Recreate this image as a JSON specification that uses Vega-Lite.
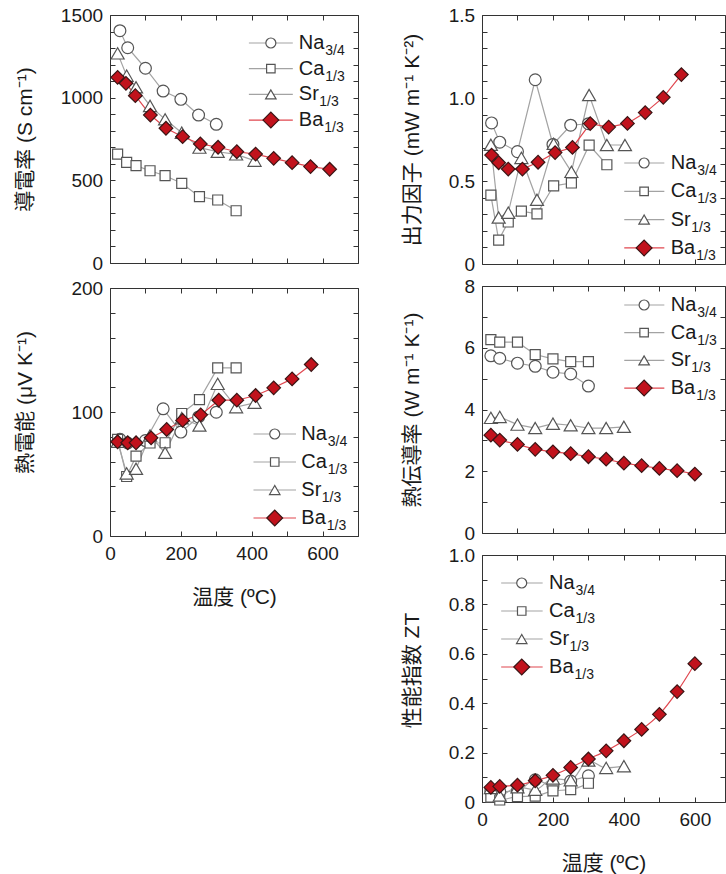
{
"$schema": "https://vega.github.io/schema/vega-lite/v6.json",
"padding": {"left": 13, "top": 5, "right": 0, "bottom": 0},
"config": {
  "view": {"stroke": "#333333", "strokeWidth": 1},
  "axis": {"labelFont": "Liberation Sans", "labelFontSize": 19, "labelColor": "#1a1a1a", "titleFont": "Liberation Sans, Noto Sans CJK JP", "titleFontSize": 21, "titleFontWeight": "normal", "titleColor": "#1a1a1a", "tickColor": "#333333", "tickWidth": 1, "labelFlush": false, "labelOverlap": false, "grid": false, "domain": false}
},
"datasets": {
"leg": [
 {"s":"Na","name":"Na","sub":"3/4","rank":0},
 {"s":"Ca","name":"Ca","sub":"1/3","rank":1},
 {"s":"Sr","name":"Sr","sub":"1/3","rank":2},
 {"s":"Ba","name":"Ba","sub":"1/3","rank":3}
],
"pts": [
 {"p":"sigma","s":"Na","T":28,"v":1405},{"p":"sigma","s":"Na","T":50,"v":1302},{"p":"sigma","s":"Na","T":100,"v":1178},{"p":"sigma","s":"Na","T":150,"v":1040},{"p":"sigma","s":"Na","T":200,"v":990},{"p":"sigma","s":"Na","T":250,"v":895},{"p":"sigma","s":"Na","T":300,"v":839},
 {"p":"sigma","s":"Ca","T":21.5,"v":659},{"p":"sigma","s":"Ca","T":47,"v":609},{"p":"sigma","s":"Ca","T":73.5,"v":589},{"p":"sigma","s":"Ca","T":113,"v":558},{"p":"sigma","s":"Ca","T":155.5,"v":528},{"p":"sigma","s":"Ca","T":202.5,"v":482},{"p":"sigma","s":"Ca","T":252.5,"v":401},{"p":"sigma","s":"Ca","T":304,"v":381},{"p":"sigma","s":"Ca","T":356,"v":316},
 {"p":"sigma","s":"Sr","T":21.5,"v":1268},{"p":"sigma","s":"Sr","T":47,"v":1133},{"p":"sigma","s":"Sr","T":73.5,"v":1063},{"p":"sigma","s":"Sr","T":113,"v":950},{"p":"sigma","s":"Sr","T":155.5,"v":869},{"p":"sigma","s":"Sr","T":202.5,"v":788},{"p":"sigma","s":"Sr","T":252.5,"v":698},{"p":"sigma","s":"Sr","T":304,"v":673},{"p":"sigma","s":"Sr","T":356,"v":657},{"p":"sigma","s":"Sr","T":408,"v":619},
 {"p":"sigma","s":"Ba","T":21.5,"v":1123},{"p":"sigma","s":"Ba","T":45,"v":1087},{"p":"sigma","s":"Ba","T":71.5,"v":1012},{"p":"sigma","s":"Ba","T":114,"v":895},{"p":"sigma","s":"Ba","T":158,"v":815},{"p":"sigma","s":"Ba","T":205,"v":764},{"p":"sigma","s":"Ba","T":255,"v":720},{"p":"sigma","s":"Ba","T":305,"v":700},{"p":"sigma","s":"Ba","T":358,"v":673},{"p":"sigma","s":"Ba","T":411,"v":659},{"p":"sigma","s":"Ba","T":462,"v":633},{"p":"sigma","s":"Ba","T":514,"v":607},{"p":"sigma","s":"Ba","T":566,"v":583},{"p":"sigma","s":"Ba","T":620,"v":567},

 {"p":"seebeck","s":"Na","T":28,"v":78},{"p":"seebeck","s":"Na","T":50,"v":75},{"p":"seebeck","s":"Na","T":100,"v":77},{"p":"seebeck","s":"Na","T":150,"v":102.6},{"p":"seebeck","s":"Na","T":200,"v":83.8},{"p":"seebeck","s":"Na","T":250,"v":96},{"p":"seebeck","s":"Na","T":300,"v":99.8},
 {"p":"seebeck","s":"Ca","T":21.5,"v":78},{"p":"seebeck","s":"Ca","T":47,"v":48},{"p":"seebeck","s":"Ca","T":73.5,"v":64.4},{"p":"seebeck","s":"Ca","T":113,"v":75},{"p":"seebeck","s":"Ca","T":155.5,"v":75.2},{"p":"seebeck","s":"Ca","T":202.5,"v":98.8},{"p":"seebeck","s":"Ca","T":252.5,"v":110},{"p":"seebeck","s":"Ca","T":304,"v":135.6},{"p":"seebeck","s":"Ca","T":356,"v":135.6},
 {"p":"seebeck","s":"Sr","T":21.5,"v":76},{"p":"seebeck","s":"Sr","T":47,"v":50.5},{"p":"seebeck","s":"Sr","T":73.5,"v":54.2},{"p":"seebeck","s":"Sr","T":113,"v":81},{"p":"seebeck","s":"Sr","T":155.5,"v":67.1},{"p":"seebeck","s":"Sr","T":202.5,"v":95},{"p":"seebeck","s":"Sr","T":252.5,"v":89.1},{"p":"seebeck","s":"Sr","T":304,"v":122.7},{"p":"seebeck","s":"Sr","T":356,"v":103.9},{"p":"seebeck","s":"Sr","T":408,"v":107.4},
 {"p":"seebeck","s":"Ba","T":21.5,"v":76},{"p":"seebeck","s":"Ba","T":50,"v":75.2},{"p":"seebeck","s":"Ba","T":73.5,"v":75.2},{"p":"seebeck","s":"Ba","T":116,"v":79.2},{"p":"seebeck","s":"Ba","T":160,"v":85.9},{"p":"seebeck","s":"Ba","T":205,"v":93.2},{"p":"seebeck","s":"Ba","T":256,"v":97.7},{"p":"seebeck","s":"Ba","T":307,"v":109.5},{"p":"seebeck","s":"Ba","T":358,"v":109.5},{"p":"seebeck","s":"Ba","T":411,"v":113.3},{"p":"seebeck","s":"Ba","T":462,"v":119.5},{"p":"seebeck","s":"Ba","T":514,"v":126.7},{"p":"seebeck","s":"Ba","T":568,"v":138.3},

 {"p":"pf","s":"Na","T":27,"v":0.85},{"p":"pf","s":"Na","T":50,"v":0.734},{"p":"pf","s":"Na","T":100,"v":0.677},{"p":"pf","s":"Na","T":150,"v":1.11},{"p":"pf","s":"Na","T":200,"v":0.72},{"p":"pf","s":"Na","T":250,"v":0.836},{"p":"pf","s":"Na","T":300,"v":0.845},
 {"p":"pf","s":"Ca","T":25,"v":0.415},{"p":"pf","s":"Ca","T":47,"v":0.144},{"p":"pf","s":"Ca","T":74,"v":0.253},{"p":"pf","s":"Ca","T":111,"v":0.319},{"p":"pf","s":"Ca","T":155,"v":0.302},{"p":"pf","s":"Ca","T":202,"v":0.471},{"p":"pf","s":"Ca","T":252,"v":0.488},{"p":"pf","s":"Ca","T":302,"v":0.716},{"p":"pf","s":"Ca","T":352,"v":0.598},
 {"p":"pf","s":"Sr","T":25,"v":0.718},{"p":"pf","s":"Sr","T":47,"v":0.28},{"p":"pf","s":"Sr","T":74,"v":0.309},{"p":"pf","s":"Sr","T":111,"v":0.639},{"p":"pf","s":"Sr","T":155,"v":0.387},{"p":"pf","s":"Sr","T":202,"v":0.724},{"p":"pf","s":"Sr","T":252,"v":0.555},{"p":"pf","s":"Sr","T":302,"v":1.018},{"p":"pf","s":"Sr","T":352,"v":0.717},{"p":"pf","s":"Sr","T":403,"v":0.717},
 {"p":"pf","s":"Ba","T":27,"v":0.656},{"p":"pf","s":"Ba","T":47,"v":0.61},{"p":"pf","s":"Ba","T":74,"v":0.572},{"p":"pf","s":"Ba","T":114,"v":0.572},{"p":"pf","s":"Ba","T":158,"v":0.613},{"p":"pf","s":"Ba","T":206,"v":0.671},{"p":"pf","s":"Ba","T":255,"v":0.702},{"p":"pf","s":"Ba","T":305,"v":0.846},{"p":"pf","s":"Ba","T":357,"v":0.825},{"p":"pf","s":"Ba","T":410,"v":0.847},{"p":"pf","s":"Ba","T":460,"v":0.912},{"p":"pf","s":"Ba","T":511,"v":1.004},{"p":"pf","s":"Ba","T":562,"v":1.141},

 {"p":"kappa","s":"Na","T":25,"v":5.74},{"p":"kappa","s":"Na","T":50,"v":5.66},{"p":"kappa","s":"Na","T":100,"v":5.5},{"p":"kappa","s":"Na","T":150,"v":5.4},{"p":"kappa","s":"Na","T":200,"v":5.21},{"p":"kappa","s":"Na","T":250,"v":5.15},{"p":"kappa","s":"Na","T":300,"v":4.76},
 {"p":"kappa","s":"Ca","T":25,"v":6.26},{"p":"kappa","s":"Ca","T":50,"v":6.18},{"p":"kappa","s":"Ca","T":100,"v":6.18},{"p":"kappa","s":"Ca","T":150,"v":5.78},{"p":"kappa","s":"Ca","T":200,"v":5.64},{"p":"kappa","s":"Ca","T":250,"v":5.55},{"p":"kappa","s":"Ca","T":300,"v":5.55},
 {"p":"kappa","s":"Sr","T":25,"v":3.73},{"p":"kappa","s":"Sr","T":50,"v":3.76},{"p":"kappa","s":"Sr","T":100,"v":3.51},{"p":"kappa","s":"Sr","T":150,"v":3.4},{"p":"kappa","s":"Sr","T":200,"v":3.54},{"p":"kappa","s":"Sr","T":250,"v":3.49},{"p":"kappa","s":"Sr","T":300,"v":3.4},{"p":"kappa","s":"Sr","T":350,"v":3.4},{"p":"kappa","s":"Sr","T":400,"v":3.44},
 {"p":"kappa","s":"Ba","T":25,"v":3.17},{"p":"kappa","s":"Ba","T":50,"v":3.01},{"p":"kappa","s":"Ba","T":100,"v":2.87},{"p":"kappa","s":"Ba","T":150,"v":2.71},{"p":"kappa","s":"Ba","T":200,"v":2.63},{"p":"kappa","s":"Ba","T":250,"v":2.57},{"p":"kappa","s":"Ba","T":300,"v":2.47},{"p":"kappa","s":"Ba","T":350,"v":2.39},{"p":"kappa","s":"Ba","T":400,"v":2.26},{"p":"kappa","s":"Ba","T":450,"v":2.18},{"p":"kappa","s":"Ba","T":500,"v":2.09},{"p":"kappa","s":"Ba","T":550,"v":2.02},{"p":"kappa","s":"Ba","T":600,"v":1.91},

 {"p":"zt","s":"Na","T":25,"v":0.044},{"p":"zt","s":"Na","T":50,"v":0.042},{"p":"zt","s":"Na","T":100,"v":0.046},{"p":"zt","s":"Na","T":150,"v":0.09},{"p":"zt","s":"Na","T":200,"v":0.065},{"p":"zt","s":"Na","T":250,"v":0.085},{"p":"zt","s":"Na","T":300,"v":0.106},
 {"p":"zt","s":"Ca","T":25,"v":0.02},{"p":"zt","s":"Ca","T":50,"v":0.008},{"p":"zt","s":"Ca","T":100,"v":0.022},{"p":"zt","s":"Ca","T":150,"v":0.024},{"p":"zt","s":"Ca","T":200,"v":0.045},{"p":"zt","s":"Ca","T":250,"v":0.05},{"p":"zt","s":"Ca","T":300,"v":0.076},
 {"p":"zt","s":"Sr","T":25,"v":0.057},{"p":"zt","s":"Sr","T":50,"v":0.026},{"p":"zt","s":"Sr","T":100,"v":0.06},{"p":"zt","s":"Sr","T":150,"v":0.05},{"p":"zt","s":"Sr","T":200,"v":0.095},{"p":"zt","s":"Sr","T":250,"v":0.088},{"p":"zt","s":"Sr","T":300,"v":0.168},{"p":"zt","s":"Sr","T":350,"v":0.138},{"p":"zt","s":"Sr","T":400,"v":0.145},
 {"p":"zt","s":"Ba","T":25,"v":0.059},{"p":"zt","s":"Ba","T":50,"v":0.063},{"p":"zt","s":"Ba","T":100,"v":0.068},{"p":"zt","s":"Ba","T":150,"v":0.086},{"p":"zt","s":"Ba","T":200,"v":0.108},{"p":"zt","s":"Ba","T":250,"v":0.14},{"p":"zt","s":"Ba","T":300,"v":0.174},{"p":"zt","s":"Ba","T":350,"v":0.207},{"p":"zt","s":"Ba","T":400,"v":0.248},{"p":"zt","s":"Ba","T":450,"v":0.294},{"p":"zt","s":"Ba","T":500,"v":0.355},{"p":"zt","s":"Ba","T":550,"v":0.447},{"p":"zt","s":"Ba","T":600,"v":0.56}
]
},
"spacing": 372,
"bounds": "flush",
"hconcat": [
{
"spacing": 25,
"bounds": "flush",
"vconcat": [
{
 "width": 248, "height": 248,
 "layer": [
  {"data": {"name": "pts"}, "transform": [{"filter": "datum.p === 'sigma'"}],
   "layer": [
    {"mark": {"type": "line", "strokeWidth": 1.2},
     "encoding": {
      "x": {"field": "T", "type": "quantitative", "scale": {"domain": [0, 700], "nice": false, "zero": false}, "axis": {"orient": "top", "values": [0,100,200,300,400,500,600,700], "labels": false, "title": null, "tickSize": -5}},
      "y": {"field": "v", "type": "quantitative", "scale": {"domain": [0, 1500], "nice": false, "zero": false}, "axis": {"orient": "right", "values": [0,100,200,300,400,500,600,700,800,900,1000,1100,1200,1300,1400,1500], "labels": false, "title": null, "tickSize": -5}},
      "color": {"field": "s", "type": "nominal", "scale": {"domain": ["Na","Ca","Sr","Ba"], "range": ["#a3a3a3","#a3a3a3","#a3a3a3","#e0474f"]}, "legend": null}
     }},
    {"mark": {"type": "point", "filled": true, "opacity": 1, "strokeWidth": 1.2},
     "encoding": {
      "x": {"field": "T", "type": "quantitative", "scale": {"domain": [0, 700], "nice": false, "zero": false}, "axis": {"orient": "bottom", "values": [0,100,200,300,400,500,600,700], "labels": false, "title": null, "tickSize": -5}},
      "y": {"field": "v", "type": "quantitative", "scale": {"domain": [0, 1500], "nice": false, "zero": false}, "axis": {"orient": "left", "values": [0,100,200,300,400,500,600,700,800,900,1000,1100,1200,1300,1400,1500], "labelExpr": "datum.value % 500 === 0 ? '' + datum.value : ''", "labelPadding": 12.4, "tickSize": -5, "title": "導電率 (S cm⁻¹)", "titleX": -85, "titleBaseline": "middle"}},
      "shape": {"field": "s", "type": "nominal", "scale": {"domain": ["Na","Ca","Sr","Ba"], "range": ["circle","square","triangle-up","diamond"]}, "legend": null},
      "size": {"field": "s", "type": "nominal", "scale": {"type": "ordinal", "domain": ["Na","Ca","Sr","Ba"], "range": [140,100,170,185]}, "legend": null},
      "fill": {"field": "s", "type": "nominal", "scale": {"domain": ["Na","Ca","Sr","Ba"], "range": ["#ffffff","#ffffff","#ffffff","#c1121c"]}, "legend": null},
      "stroke": {"field": "s", "type": "nominal", "scale": {"domain": ["Na","Ca","Sr","Ba"], "range": ["#555555","#555555","#555555","#3b1515"]}, "legend": null}
     }}
   ],
   "resolve": {"axis": {"x": "independent", "y": "independent"}}
  },
  {"data": {"name": "leg"},
   "layer": [
    {"mark": {"type": "rule", "strokeWidth": 1.2},
     "encoding": {
      "x": {"datum": 392, "type": "quantitative", "scale": {"domain": [0, 700], "nice": false, "zero": false}, "axis": null},
      "x2": {"datum": 516},
      "y": {"field": "rank", "type": "quantitative", "scale": {"domain": [-1.089, 8.561], "reverse": true, "nice": false, "zero": false}, "axis": null},
      "color": {"field": "s", "type": "nominal", "scale": {"domain": ["Na","Ca","Sr","Ba"], "range": ["#a3a3a3","#a3a3a3","#a3a3a3","#e0474f"]}, "legend": null}
     }},
    {"mark": {"type": "point", "filled": true, "opacity": 1, "strokeWidth": 1.2},
     "encoding": {
      "x": {"datum": 454, "type": "quantitative", "scale": {"domain": [0, 700], "nice": false, "zero": false}, "axis": null},
      "y": {"field": "rank", "type": "quantitative", "scale": {"domain": [-1.089, 8.561], "reverse": true, "nice": false, "zero": false}, "axis": null},
      "shape": {"field": "s", "type": "nominal", "scale": {"domain": ["Na","Ca","Sr","Ba"], "range": ["circle","square","triangle-up","diamond"]}, "legend": null},
      "size": {"field": "s", "type": "nominal", "scale": {"type": "ordinal", "domain": ["Na","Ca","Sr","Ba"], "range": [100,72,110,250]}, "legend": null},
      "fill": {"field": "s", "type": "nominal", "scale": {"domain": ["Na","Ca","Sr","Ba"], "range": ["#ffffff","#ffffff","#ffffff","#c1121c"]}, "legend": null},
      "stroke": {"field": "s", "type": "nominal", "scale": {"domain": ["Na","Ca","Sr","Ba"], "range": ["#555555","#555555","#555555","#3b1515"]}, "legend": null}
     }},
    {"mark": {"type": "text", "align": "left", "baseline": "middle", "fontSize": 20, "font": "Liberation Sans", "color": "#1a1a1a"},
     "encoding": {
      "x": {"datum": 533, "type": "quantitative", "scale": {"domain": [0, 700], "nice": false, "zero": false}, "axis": null},
      "y": {"field": "rank", "type": "quantitative", "scale": {"domain": [-1.089, 8.561], "reverse": true, "nice": false, "zero": false}, "axis": null},
      "text": {"field": "name"}
     }},
    {"transform": [{"filter": "datum.s === 'Na' || datum.s === 'Ca'"}],
     "mark": {"type": "text", "align": "left", "baseline": "middle", "fontSize": 14, "font": "Liberation Sans", "color": "#1a1a1a", "dx": 26.5, "dy": 8},
     "encoding": {
      "x": {"datum": 533, "type": "quantitative", "scale": {"domain": [0, 700], "nice": false, "zero": false}, "axis": null},
      "y": {"field": "rank", "type": "quantitative", "scale": {"domain": [-1.089, 8.561], "reverse": true, "nice": false, "zero": false}, "axis": null},
      "text": {"field": "sub"}
     }},
    {"transform": [{"filter": "datum.s === 'Ba'"}],
     "mark": {"type": "text", "align": "left", "baseline": "middle", "fontSize": 14, "font": "Liberation Sans", "color": "#1a1a1a", "dx": 25.5, "dy": 8},
     "encoding": {
      "x": {"datum": 533, "type": "quantitative", "scale": {"domain": [0, 700], "nice": false, "zero": false}, "axis": null},
      "y": {"field": "rank", "type": "quantitative", "scale": {"domain": [-1.089, 8.561], "reverse": true, "nice": false, "zero": false}, "axis": null},
      "text": {"field": "sub"}
     }},
    {"transform": [{"filter": "datum.s === 'Sr'"}],
     "mark": {"type": "text", "align": "left", "baseline": "middle", "fontSize": 14, "font": "Liberation Sans", "color": "#1a1a1a", "dx": 20.5, "dy": 8},
     "encoding": {
      "x": {"datum": 533, "type": "quantitative", "scale": {"domain": [0, 700], "nice": false, "zero": false}, "axis": null},
      "y": {"field": "rank", "type": "quantitative", "scale": {"domain": [-1.089, 8.561], "reverse": true, "nice": false, "zero": false}, "axis": null},
      "text": {"field": "sub"}
     }}
   ]
  }
 ],
 "resolve": {"scale": {"y": "independent", "size": "independent"}, "axis": {"x": "independent", "y": "independent"}}
},
{
 "width": 248, "height": 248,
 "layer": [
  {"data": {"name": "pts"}, "transform": [{"filter": "datum.p === 'seebeck'"}],
   "layer": [
    {"mark": {"type": "line", "strokeWidth": 1.2},
     "encoding": {
      "x": {"field": "T", "type": "quantitative", "scale": {"domain": [0, 700], "nice": false, "zero": false}, "axis": {"orient": "top", "values": [0,100,200,300,400,500,600,700], "labels": false, "title": null, "tickSize": -5}},
      "y": {"field": "v", "type": "quantitative", "scale": {"domain": [0, 200], "nice": false, "zero": false}, "axis": {"orient": "right", "values": [0,20,40,60,80,100,120,140,160,180,200], "labels": false, "title": null, "tickSize": -5}},
      "color": {"field": "s", "type": "nominal", "scale": {"domain": ["Na","Ca","Sr","Ba"], "range": ["#a3a3a3","#a3a3a3","#a3a3a3","#e0474f"]}, "legend": null}
     }},
    {"mark": {"type": "point", "filled": true, "opacity": 1, "strokeWidth": 1.2},
     "encoding": {
      "x": {"field": "T", "type": "quantitative", "scale": {"domain": [0, 700], "nice": false, "zero": false}, "axis": {"orient": "bottom", "values": [0,100,200,300,400,500,600,700], "labelExpr": "datum.value % 200 === 0 ? '' + datum.value : ''", "labelPadding": 13, "tickSize": -5, "title": "温度 (ºC)", "titleY": 61, "titleBaseline": "middle"}},
      "y": {"field": "v", "type": "quantitative", "scale": {"domain": [0, 200], "nice": false, "zero": false}, "axis": {"orient": "left", "values": [0,20,40,60,80,100,120,140,160,180,200], "labelExpr": "datum.value % 100 === 0 ? '' + datum.value : ''", "labelPadding": 12.4, "tickSize": -5, "title": "熱電能 (μV K⁻¹)", "titleX": -85, "titleY": 114, "titleBaseline": "middle"}},
      "shape": {"field": "s", "type": "nominal", "scale": {"domain": ["Na","Ca","Sr","Ba"], "range": ["circle","square","triangle-up","diamond"]}, "legend": null},
      "size": {"field": "s", "type": "nominal", "scale": {"type": "ordinal", "domain": ["Na","Ca","Sr","Ba"], "range": [140,100,170,185]}, "legend": null},
      "fill": {"field": "s", "type": "nominal", "scale": {"domain": ["Na","Ca","Sr","Ba"], "range": ["#ffffff","#ffffff","#ffffff","#c1121c"]}, "legend": null},
      "stroke": {"field": "s", "type": "nominal", "scale": {"domain": ["Na","Ca","Sr","Ba"], "range": ["#555555","#555555","#555555","#3b1515"]}, "legend": null}
     }}
   ],
   "resolve": {"axis": {"x": "independent", "y": "independent"}}
  },
  {"data": {"name": "leg"},
   "layer": [
    {"mark": {"type": "rule", "strokeWidth": 1.2},
     "encoding": {
      "x": {"datum": 405, "type": "quantitative", "scale": {"domain": [0, 700], "nice": false, "zero": false}, "axis": null},
      "x2": {"datum": 525},
      "y": {"field": "rank", "type": "quantitative", "scale": {"domain": [-5.214, 3.643], "reverse": true, "nice": false, "zero": false}, "axis": null},
      "color": {"field": "s", "type": "nominal", "scale": {"domain": ["Na","Ca","Sr","Ba"], "range": ["#a3a3a3","#a3a3a3","#a3a3a3","#e0474f"]}, "legend": null}
     }},
    {"mark": {"type": "point", "filled": true, "opacity": 1, "strokeWidth": 1.2},
     "encoding": {
      "x": {"datum": 465, "type": "quantitative", "scale": {"domain": [0, 700], "nice": false, "zero": false}, "axis": null},
      "y": {"field": "rank", "type": "quantitative", "scale": {"domain": [-5.214, 3.643], "reverse": true, "nice": false, "zero": false}, "axis": null},
      "shape": {"field": "s", "type": "nominal", "scale": {"domain": ["Na","Ca","Sr","Ba"], "range": ["circle","square","triangle-up","diamond"]}, "legend": null},
      "size": {"field": "s", "type": "nominal", "scale": {"type": "ordinal", "domain": ["Na","Ca","Sr","Ba"], "range": [100,72,110,250]}, "legend": null},
      "fill": {"field": "s", "type": "nominal", "scale": {"domain": ["Na","Ca","Sr","Ba"], "range": ["#ffffff","#ffffff","#ffffff","#c1121c"]}, "legend": null},
      "stroke": {"field": "s", "type": "nominal", "scale": {"domain": ["Na","Ca","Sr","Ba"], "range": ["#555555","#555555","#555555","#3b1515"]}, "legend": null}
     }},
    {"mark": {"type": "text", "align": "left", "baseline": "middle", "fontSize": 20, "font": "Liberation Sans", "color": "#1a1a1a"},
     "encoding": {
      "x": {"datum": 540, "type": "quantitative", "scale": {"domain": [0, 700], "nice": false, "zero": false}, "axis": null},
      "y": {"field": "rank", "type": "quantitative", "scale": {"domain": [-5.214, 3.643], "reverse": true, "nice": false, "zero": false}, "axis": null},
      "text": {"field": "name"}
     }},
    {"transform": [{"filter": "datum.s === 'Na' || datum.s === 'Ca'"}],
     "mark": {"type": "text", "align": "left", "baseline": "middle", "fontSize": 14, "font": "Liberation Sans", "color": "#1a1a1a", "dx": 26.5, "dy": 8},
     "encoding": {
      "x": {"datum": 540, "type": "quantitative", "scale": {"domain": [0, 700], "nice": false, "zero": false}, "axis": null},
      "y": {"field": "rank", "type": "quantitative", "scale": {"domain": [-5.214, 3.643], "reverse": true, "nice": false, "zero": false}, "axis": null},
      "text": {"field": "sub"}
     }},
    {"transform": [{"filter": "datum.s === 'Ba'"}],
     "mark": {"type": "text", "align": "left", "baseline": "middle", "fontSize": 14, "font": "Liberation Sans", "color": "#1a1a1a", "dx": 25.5, "dy": 8},
     "encoding": {
      "x": {"datum": 540, "type": "quantitative", "scale": {"domain": [0, 700], "nice": false, "zero": false}, "axis": null},
      "y": {"field": "rank", "type": "quantitative", "scale": {"domain": [-5.214, 3.643], "reverse": true, "nice": false, "zero": false}, "axis": null},
      "text": {"field": "sub"}
     }},
    {"transform": [{"filter": "datum.s === 'Sr'"}],
     "mark": {"type": "text", "align": "left", "baseline": "middle", "fontSize": 14, "font": "Liberation Sans", "color": "#1a1a1a", "dx": 20.5, "dy": 8},
     "encoding": {
      "x": {"datum": 540, "type": "quantitative", "scale": {"domain": [0, 700], "nice": false, "zero": false}, "axis": null},
      "y": {"field": "rank", "type": "quantitative", "scale": {"domain": [-5.214, 3.643], "reverse": true, "nice": false, "zero": false}, "axis": null},
      "text": {"field": "sub"}
     }}
   ]
  }
 ],
 "resolve": {"scale": {"y": "independent", "size": "independent"}, "axis": {"x": "independent", "y": "independent"}}
}
]
},
{
"spacing": 22,
"bounds": "flush",
"vconcat": [
{
 "width": 243, "height": 249,
 "layer": [
  {"data": {"name": "pts"}, "transform": [{"filter": "datum.p === 'pf'"}],
   "layer": [
    {"mark": {"type": "line", "strokeWidth": 1.2},
     "encoding": {
      "x": {"field": "T", "type": "quantitative", "scale": {"domain": [0, 685], "nice": false, "zero": false}, "axis": {"orient": "top", "values": [0,100,200,300,400,500,600], "labels": false, "title": null, "tickSize": -5}},
      "y": {"field": "v", "type": "quantitative", "scale": {"domain": [0, 1.5], "nice": false, "zero": false}, "axis": {"orient": "right", "values": [0,0.1,0.2,0.3,0.4,0.5,0.6,0.7,0.8,0.9,1,1.1,1.2,1.3,1.4,1.5], "labels": false, "title": null, "tickSize": -5}},
      "color": {"field": "s", "type": "nominal", "scale": {"domain": ["Na","Ca","Sr","Ba"], "range": ["#a3a3a3","#a3a3a3","#a3a3a3","#e0474f"]}, "legend": null}
     }},
    {"mark": {"type": "point", "filled": true, "opacity": 1, "strokeWidth": 1.2},
     "encoding": {
      "x": {"field": "T", "type": "quantitative", "scale": {"domain": [0, 685], "nice": false, "zero": false}, "axis": {"orient": "bottom", "values": [0,100,200,300,400,500,600], "labels": false, "title": null, "tickSize": -5}},
      "y": {"field": "v", "type": "quantitative", "scale": {"domain": [0, 1.5], "nice": false, "zero": false}, "axis": {"orient": "left", "values": [0,0.1,0.2,0.3,0.4,0.5,0.6,0.7,0.8,0.9,1,1.1,1.2,1.3,1.4,1.5], "labelExpr": "round(datum.value*10) % 5 === 0 ? (datum.value === 0 ? '0' : format(datum.value, '.1f')) : ''", "labelPadding": 12.4, "tickSize": -5, "title": "出力因子 (mW m⁻¹ K⁻²)", "titleX": -70, "titleBaseline": "middle"}},
      "shape": {"field": "s", "type": "nominal", "scale": {"domain": ["Na","Ca","Sr","Ba"], "range": ["circle","square","triangle-up","diamond"]}, "legend": null},
      "size": {"field": "s", "type": "nominal", "scale": {"type": "ordinal", "domain": ["Na","Ca","Sr","Ba"], "range": [140,100,170,185]}, "legend": null},
      "fill": {"field": "s", "type": "nominal", "scale": {"domain": ["Na","Ca","Sr","Ba"], "range": ["#ffffff","#ffffff","#ffffff","#c1121c"]}, "legend": null},
      "stroke": {"field": "s", "type": "nominal", "scale": {"domain": ["Na","Ca","Sr","Ba"], "range": ["#555555","#555555","#555555","#3b1515"]}, "legend": null}
     }}
   ],
   "resolve": {"axis": {"x": "independent", "y": "independent"}}
  },
  {"data": {"name": "leg"},
   "layer": [
    {"mark": {"type": "rule", "strokeWidth": 1.2},
     "encoding": {
      "x": {"datum": 401, "type": "quantitative", "scale": {"domain": [0, 685], "nice": false, "zero": false}, "axis": null},
      "x2": {"datum": 514},
      "y": {"field": "rank", "type": "quantitative", "scale": {"domain": [-5.23, 3.569], "reverse": true, "nice": false, "zero": false}, "axis": null},
      "color": {"field": "s", "type": "nominal", "scale": {"domain": ["Na","Ca","Sr","Ba"], "range": ["#a3a3a3","#a3a3a3","#a3a3a3","#e0474f"]}, "legend": null}
     }},
    {"mark": {"type": "point", "filled": true, "opacity": 1, "strokeWidth": 1.2},
     "encoding": {
      "x": {"datum": 457, "type": "quantitative", "scale": {"domain": [0, 685], "nice": false, "zero": false}, "axis": null},
      "y": {"field": "rank", "type": "quantitative", "scale": {"domain": [-5.23, 3.569], "reverse": true, "nice": false, "zero": false}, "axis": null},
      "shape": {"field": "s", "type": "nominal", "scale": {"domain": ["Na","Ca","Sr","Ba"], "range": ["circle","square","triangle-up","diamond"]}, "legend": null},
      "size": {"field": "s", "type": "nominal", "scale": {"type": "ordinal", "domain": ["Na","Ca","Sr","Ba"], "range": [100,72,110,250]}, "legend": null},
      "fill": {"field": "s", "type": "nominal", "scale": {"domain": ["Na","Ca","Sr","Ba"], "range": ["#ffffff","#ffffff","#ffffff","#c1121c"]}, "legend": null},
      "stroke": {"field": "s", "type": "nominal", "scale": {"domain": ["Na","Ca","Sr","Ba"], "range": ["#555555","#555555","#555555","#3b1515"]}, "legend": null}
     }},
    {"mark": {"type": "text", "align": "left", "baseline": "middle", "fontSize": 20, "font": "Liberation Sans", "color": "#1a1a1a"},
     "encoding": {
      "x": {"datum": 532, "type": "quantitative", "scale": {"domain": [0, 685], "nice": false, "zero": false}, "axis": null},
      "y": {"field": "rank", "type": "quantitative", "scale": {"domain": [-5.23, 3.569], "reverse": true, "nice": false, "zero": false}, "axis": null},
      "text": {"field": "name"}
     }},
    {"transform": [{"filter": "datum.s === 'Na' || datum.s === 'Ca'"}],
     "mark": {"type": "text", "align": "left", "baseline": "middle", "fontSize": 14, "font": "Liberation Sans", "color": "#1a1a1a", "dx": 26.5, "dy": 8},
     "encoding": {
      "x": {"datum": 532, "type": "quantitative", "scale": {"domain": [0, 685], "nice": false, "zero": false}, "axis": null},
      "y": {"field": "rank", "type": "quantitative", "scale": {"domain": [-5.23, 3.569], "reverse": true, "nice": false, "zero": false}, "axis": null},
      "text": {"field": "sub"}
     }},
    {"transform": [{"filter": "datum.s === 'Ba'"}],
     "mark": {"type": "text", "align": "left", "baseline": "middle", "fontSize": 14, "font": "Liberation Sans", "color": "#1a1a1a", "dx": 25.5, "dy": 8},
     "encoding": {
      "x": {"datum": 532, "type": "quantitative", "scale": {"domain": [0, 685], "nice": false, "zero": false}, "axis": null},
      "y": {"field": "rank", "type": "quantitative", "scale": {"domain": [-5.23, 3.569], "reverse": true, "nice": false, "zero": false}, "axis": null},
      "text": {"field": "sub"}
     }},
    {"transform": [{"filter": "datum.s === 'Sr'"}],
     "mark": {"type": "text", "align": "left", "baseline": "middle", "fontSize": 14, "font": "Liberation Sans", "color": "#1a1a1a", "dx": 20.5, "dy": 8},
     "encoding": {
      "x": {"datum": 532, "type": "quantitative", "scale": {"domain": [0, 685], "nice": false, "zero": false}, "axis": null},
      "y": {"field": "rank", "type": "quantitative", "scale": {"domain": [-5.23, 3.569], "reverse": true, "nice": false, "zero": false}, "axis": null},
      "text": {"field": "sub"}
     }}
   ]
  }
 ],
 "resolve": {"scale": {"y": "independent", "size": "independent"}, "axis": {"x": "independent", "y": "independent"}}
},
{
 "width": 243, "height": 247,
 "layer": [
  {"data": {"name": "pts"}, "transform": [{"filter": "datum.p === 'kappa'"}],
   "layer": [
    {"mark": {"type": "line", "strokeWidth": 1.2},
     "encoding": {
      "x": {"field": "T", "type": "quantitative", "scale": {"domain": [0, 685], "nice": false, "zero": false}, "axis": {"orient": "top", "values": [0,100,200,300,400,500,600], "labels": false, "title": null, "tickSize": -5}},
      "y": {"field": "v", "type": "quantitative", "scale": {"domain": [0, 8], "nice": false, "zero": false}, "axis": {"orient": "right", "values": [0,1,2,3,4,5,6,7,8], "labels": false, "title": null, "tickSize": -5}},
      "color": {"field": "s", "type": "nominal", "scale": {"domain": ["Na","Ca","Sr","Ba"], "range": ["#a3a3a3","#a3a3a3","#a3a3a3","#e0474f"]}, "legend": null}
     }},
    {"mark": {"type": "point", "filled": true, "opacity": 1, "strokeWidth": 1.2},
     "encoding": {
      "x": {"field": "T", "type": "quantitative", "scale": {"domain": [0, 685], "nice": false, "zero": false}, "axis": {"orient": "bottom", "values": [0,100,200,300,400,500,600], "labels": false, "title": null, "tickSize": -5}},
      "y": {"field": "v", "type": "quantitative", "scale": {"domain": [0, 8], "nice": false, "zero": false}, "axis": {"orient": "left", "values": [0,1,2,3,4,5,6,7,8], "labelExpr": "datum.value % 2 === 0 ? '' + datum.value : ''", "labelPadding": 12.4, "tickSize": -5, "title": "熱伝導率 (W m⁻¹ K⁻¹)", "titleX": -70, "titleBaseline": "middle"}},
      "shape": {"field": "s", "type": "nominal", "scale": {"domain": ["Na","Ca","Sr","Ba"], "range": ["circle","square","triangle-up","diamond"]}, "legend": null},
      "size": {"field": "s", "type": "nominal", "scale": {"type": "ordinal", "domain": ["Na","Ca","Sr","Ba"], "range": [140,100,170,185]}, "legend": null},
      "fill": {"field": "s", "type": "nominal", "scale": {"domain": ["Na","Ca","Sr","Ba"], "range": ["#ffffff","#ffffff","#ffffff","#c1121c"]}, "legend": null},
      "stroke": {"field": "s", "type": "nominal", "scale": {"domain": ["Na","Ca","Sr","Ba"], "range": ["#555555","#555555","#555555","#3b1515"]}, "legend": null}
     }}
   ],
   "resolve": {"axis": {"x": "independent", "y": "independent"}}
  },
  {"data": {"name": "leg"},
   "layer": [
    {"mark": {"type": "rule", "strokeWidth": 1.2},
     "encoding": {
      "x": {"datum": 401, "type": "quantitative", "scale": {"domain": [0, 685], "nice": false, "zero": false}, "axis": null},
      "x2": {"datum": 514},
      "y": {"field": "rank", "type": "quantitative", "scale": {"domain": [-0.686, 8.231], "reverse": true, "nice": false, "zero": false}, "axis": null},
      "color": {"field": "s", "type": "nominal", "scale": {"domain": ["Na","Ca","Sr","Ba"], "range": ["#a3a3a3","#a3a3a3","#a3a3a3","#e0474f"]}, "legend": null}
     }},
    {"mark": {"type": "point", "filled": true, "opacity": 1, "strokeWidth": 1.2},
     "encoding": {
      "x": {"datum": 457, "type": "quantitative", "scale": {"domain": [0, 685], "nice": false, "zero": false}, "axis": null},
      "y": {"field": "rank", "type": "quantitative", "scale": {"domain": [-0.686, 8.231], "reverse": true, "nice": false, "zero": false}, "axis": null},
      "shape": {"field": "s", "type": "nominal", "scale": {"domain": ["Na","Ca","Sr","Ba"], "range": ["circle","square","triangle-up","diamond"]}, "legend": null},
      "size": {"field": "s", "type": "nominal", "scale": {"type": "ordinal", "domain": ["Na","Ca","Sr","Ba"], "range": [100,72,110,250]}, "legend": null},
      "fill": {"field": "s", "type": "nominal", "scale": {"domain": ["Na","Ca","Sr","Ba"], "range": ["#ffffff","#ffffff","#ffffff","#c1121c"]}, "legend": null},
      "stroke": {"field": "s", "type": "nominal", "scale": {"domain": ["Na","Ca","Sr","Ba"], "range": ["#555555","#555555","#555555","#3b1515"]}, "legend": null}
     }},
    {"mark": {"type": "text", "align": "left", "baseline": "middle", "fontSize": 20, "font": "Liberation Sans", "color": "#1a1a1a"},
     "encoding": {
      "x": {"datum": 532, "type": "quantitative", "scale": {"domain": [0, 685], "nice": false, "zero": false}, "axis": null},
      "y": {"field": "rank", "type": "quantitative", "scale": {"domain": [-0.686, 8.231], "reverse": true, "nice": false, "zero": false}, "axis": null},
      "text": {"field": "name"}
     }},
    {"transform": [{"filter": "datum.s === 'Na' || datum.s === 'Ca'"}],
     "mark": {"type": "text", "align": "left", "baseline": "middle", "fontSize": 14, "font": "Liberation Sans", "color": "#1a1a1a", "dx": 26.5, "dy": 8},
     "encoding": {
      "x": {"datum": 532, "type": "quantitative", "scale": {"domain": [0, 685], "nice": false, "zero": false}, "axis": null},
      "y": {"field": "rank", "type": "quantitative", "scale": {"domain": [-0.686, 8.231], "reverse": true, "nice": false, "zero": false}, "axis": null},
      "text": {"field": "sub"}
     }},
    {"transform": [{"filter": "datum.s === 'Ba'"}],
     "mark": {"type": "text", "align": "left", "baseline": "middle", "fontSize": 14, "font": "Liberation Sans", "color": "#1a1a1a", "dx": 25.5, "dy": 8},
     "encoding": {
      "x": {"datum": 532, "type": "quantitative", "scale": {"domain": [0, 685], "nice": false, "zero": false}, "axis": null},
      "y": {"field": "rank", "type": "quantitative", "scale": {"domain": [-0.686, 8.231], "reverse": true, "nice": false, "zero": false}, "axis": null},
      "text": {"field": "sub"}
     }},
    {"transform": [{"filter": "datum.s === 'Sr'"}],
     "mark": {"type": "text", "align": "left", "baseline": "middle", "fontSize": 14, "font": "Liberation Sans", "color": "#1a1a1a", "dx": 20.5, "dy": 8},
     "encoding": {
      "x": {"datum": 532, "type": "quantitative", "scale": {"domain": [0, 685], "nice": false, "zero": false}, "axis": null},
      "y": {"field": "rank", "type": "quantitative", "scale": {"domain": [-0.686, 8.231], "reverse": true, "nice": false, "zero": false}, "axis": null},
      "text": {"field": "sub"}
     }}
   ]
  }
 ],
 "resolve": {"scale": {"y": "independent", "size": "independent"}, "axis": {"x": "independent", "y": "independent"}}
},
{
 "width": 243, "height": 247,
 "layer": [
  {"data": {"name": "pts"}, "transform": [{"filter": "datum.p === 'zt'"}],
   "layer": [
    {"mark": {"type": "line", "strokeWidth": 1.2, "interpolate": "monotone"},
     "encoding": {
      "x": {"field": "T", "type": "quantitative", "scale": {"domain": [0, 685], "nice": false, "zero": false}, "axis": {"orient": "top", "values": [0,100,200,300,400,500,600], "labels": false, "title": null, "tickSize": -5}},
      "y": {"field": "v", "type": "quantitative", "scale": {"domain": [0, 1], "nice": false, "zero": false}, "axis": {"orient": "right", "values": [0,0.1,0.2,0.3,0.4,0.5,0.6,0.7,0.8,0.9,1], "labels": false, "title": null, "tickSize": -5}},
      "color": {"field": "s", "type": "nominal", "scale": {"domain": ["Na","Ca","Sr","Ba"], "range": ["#a3a3a3","#a3a3a3","#a3a3a3","#e0474f"]}, "legend": null}
     }},
    {"mark": {"type": "point", "filled": true, "opacity": 1, "strokeWidth": 1.2},
     "encoding": {
      "x": {"field": "T", "type": "quantitative", "scale": {"domain": [0, 685], "nice": false, "zero": false}, "axis": {"orient": "bottom", "values": [0,100,200,300,400,500,600], "labelExpr": "datum.value % 200 === 0 ? '' + datum.value : ''", "labelPadding": 13, "tickSize": -5, "title": "温度 (ºC)", "titleY": 61, "titleBaseline": "middle"}},
      "y": {"field": "v", "type": "quantitative", "scale": {"domain": [0, 1], "nice": false, "zero": false}, "axis": {"orient": "left", "values": [0,0.1,0.2,0.3,0.4,0.5,0.6,0.7,0.8,0.9,1], "labelExpr": "round(datum.value*10) % 2 === 0 ? (datum.value === 0 ? '0' : format(datum.value, '.1f')) : ''", "labelPadding": 12.4, "tickSize": -5, "title": "性能指数 ZT", "titleX": -70, "titleY": 115, "titleBaseline": "middle"}},
      "shape": {"field": "s", "type": "nominal", "scale": {"domain": ["Na","Ca","Sr","Ba"], "range": ["circle","square","triangle-up","diamond"]}, "legend": null},
      "size": {"field": "s", "type": "nominal", "scale": {"type": "ordinal", "domain": ["Na","Ca","Sr","Ba"], "range": [140,100,170,185]}, "legend": null},
      "fill": {"field": "s", "type": "nominal", "scale": {"domain": ["Na","Ca","Sr","Ba"], "range": ["#ffffff","#ffffff","#ffffff","#c1121c"]}, "legend": null},
      "stroke": {"field": "s", "type": "nominal", "scale": {"domain": ["Na","Ca","Sr","Ba"], "range": ["#555555","#555555","#555555","#3b1515"]}, "legend": null}
     }}
   ],
   "resolve": {"axis": {"x": "independent", "y": "independent"}}
  },
  {"data": {"name": "leg"},
   "layer": [
    {"mark": {"type": "rule", "strokeWidth": 1.2},
     "encoding": {
      "x": {"datum": 54, "type": "quantitative", "scale": {"domain": [0, 685], "nice": false, "zero": false}, "axis": null},
      "x2": {"datum": 171},
      "y": {"field": "rank", "type": "quantitative", "scale": {"domain": [-1, 7.821], "reverse": true, "nice": false, "zero": false}, "axis": null},
      "color": {"field": "s", "type": "nominal", "scale": {"domain": ["Na","Ca","Sr","Ba"], "range": ["#a3a3a3","#a3a3a3","#a3a3a3","#e0474f"]}, "legend": null}
     }},
    {"mark": {"type": "point", "filled": true, "opacity": 1, "strokeWidth": 1.2},
     "encoding": {
      "x": {"datum": 112, "type": "quantitative", "scale": {"domain": [0, 685], "nice": false, "zero": false}, "axis": null},
      "y": {"field": "rank", "type": "quantitative", "scale": {"domain": [-1, 7.821], "reverse": true, "nice": false, "zero": false}, "axis": null},
      "shape": {"field": "s", "type": "nominal", "scale": {"domain": ["Na","Ca","Sr","Ba"], "range": ["circle","square","triangle-up","diamond"]}, "legend": null},
      "size": {"field": "s", "type": "nominal", "scale": {"type": "ordinal", "domain": ["Na","Ca","Sr","Ba"], "range": [100,72,110,250]}, "legend": null},
      "fill": {"field": "s", "type": "nominal", "scale": {"domain": ["Na","Ca","Sr","Ba"], "range": ["#ffffff","#ffffff","#ffffff","#c1121c"]}, "legend": null},
      "stroke": {"field": "s", "type": "nominal", "scale": {"domain": ["Na","Ca","Sr","Ba"], "range": ["#555555","#555555","#555555","#3b1515"]}, "legend": null}
     }},
    {"mark": {"type": "text", "align": "left", "baseline": "middle", "fontSize": 20, "font": "Liberation Sans", "color": "#1a1a1a"},
     "encoding": {
      "x": {"datum": 189, "type": "quantitative", "scale": {"domain": [0, 685], "nice": false, "zero": false}, "axis": null},
      "y": {"field": "rank", "type": "quantitative", "scale": {"domain": [-1, 7.821], "reverse": true, "nice": false, "zero": false}, "axis": null},
      "text": {"field": "name"}
     }},
    {"transform": [{"filter": "datum.s === 'Na' || datum.s === 'Ca'"}],
     "mark": {"type": "text", "align": "left", "baseline": "middle", "fontSize": 14, "font": "Liberation Sans", "color": "#1a1a1a", "dx": 26.5, "dy": 8},
     "encoding": {
      "x": {"datum": 189, "type": "quantitative", "scale": {"domain": [0, 685], "nice": false, "zero": false}, "axis": null},
      "y": {"field": "rank", "type": "quantitative", "scale": {"domain": [-1, 7.821], "reverse": true, "nice": false, "zero": false}, "axis": null},
      "text": {"field": "sub"}
     }},
    {"transform": [{"filter": "datum.s === 'Ba'"}],
     "mark": {"type": "text", "align": "left", "baseline": "middle", "fontSize": 14, "font": "Liberation Sans", "color": "#1a1a1a", "dx": 25.5, "dy": 8},
     "encoding": {
      "x": {"datum": 189, "type": "quantitative", "scale": {"domain": [0, 685], "nice": false, "zero": false}, "axis": null},
      "y": {"field": "rank", "type": "quantitative", "scale": {"domain": [-1, 7.821], "reverse": true, "nice": false, "zero": false}, "axis": null},
      "text": {"field": "sub"}
     }},
    {"transform": [{"filter": "datum.s === 'Sr'"}],
     "mark": {"type": "text", "align": "left", "baseline": "middle", "fontSize": 14, "font": "Liberation Sans", "color": "#1a1a1a", "dx": 20.5, "dy": 8},
     "encoding": {
      "x": {"datum": 189, "type": "quantitative", "scale": {"domain": [0, 685], "nice": false, "zero": false}, "axis": null},
      "y": {"field": "rank", "type": "quantitative", "scale": {"domain": [-1, 7.821], "reverse": true, "nice": false, "zero": false}, "axis": null},
      "text": {"field": "sub"}
     }}
   ]
  }
 ],
 "resolve": {"scale": {"y": "independent", "size": "independent"}, "axis": {"x": "independent", "y": "independent"}}
}
]
}
]
}
